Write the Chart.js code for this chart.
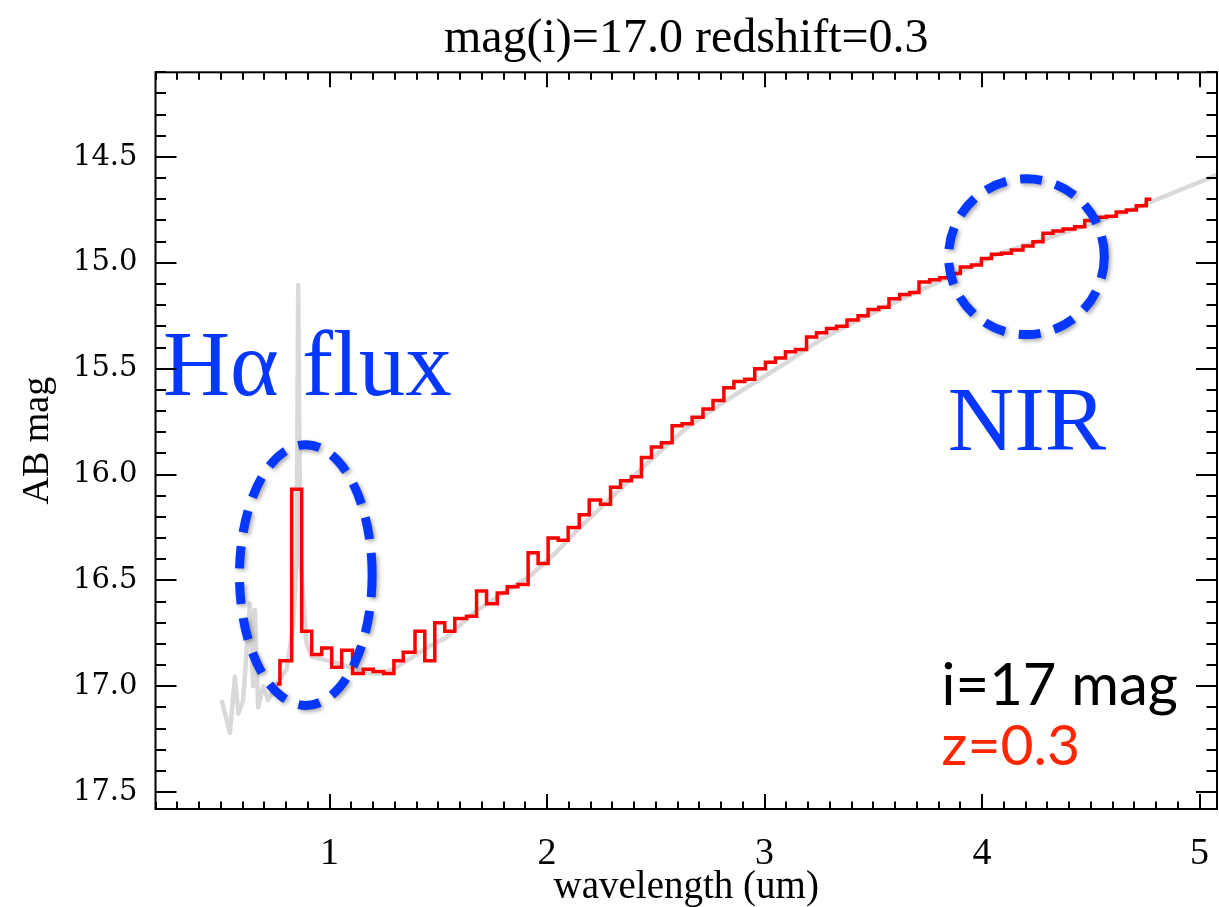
<!DOCTYPE html>
<html>
<head>
<meta charset="utf-8">
<script src="https://cdn.jsdelivr.net/npm/chart.js@4.4.1/dist/chart.umd.min.js"></script>
<style>
html, body { margin: 0; padding: 0; background: #fff; }
canvas { display: block; }
</style>
</head>
<body>
<canvas id="myChart" width="1219" height="907"></canvas>
<script>
// binned spectrum (red): left edge of each bin [um] and its AB mag, last entry closes the last bin
const binEdges = [0.758, 0.772, 0.826, 0.872, 0.918, 0.964, 1.010, 1.056, 1.106, 1.155,
	1.201, 1.249, 1.296, 1.339, 1.393, 1.438, 1.484, 1.530, 1.576, 1.630,
	1.676, 1.722, 1.771, 1.817, 1.866, 1.913, 1.959, 2.005, 2.051, 2.097,
	2.148, 2.194, 2.246, 2.292, 2.338, 2.388, 2.434, 2.480, 2.526, 2.575,
	2.621, 2.667, 2.717, 2.763, 2.813, 2.859, 2.909, 2.955, 3.004, 3.050,
	3.096, 3.142, 3.193, 3.239, 3.285, 3.331, 3.379, 3.430, 3.476, 3.525,
	3.572, 3.621, 3.667, 3.710, 3.759, 3.805, 3.854, 3.900, 3.951, 3.997,
	4.043, 4.089, 4.135, 4.188, 4.234, 4.280, 4.326, 4.372, 4.426, 4.472,
	4.518, 4.571, 4.617, 4.663, 4.709, 4.755, 4.778];
const binMags = [16.99, 16.88, 16.07, 16.74, 16.85, 16.82, 16.91, 16.83, 16.94, 16.92,
	16.93, 16.94, 16.88, 16.84, 16.74, 16.88, 16.70, 16.74, 16.68, 16.67,
	16.55, 16.61, 16.56, 16.53, 16.52, 16.37, 16.42, 16.30, 16.31, 16.25,
	16.19, 16.12, 16.14, 16.06, 16.03, 16.01, 15.92, 15.87, 15.85, 15.77,
	15.76, 15.73, 15.69, 15.65, 15.59, 15.56, 15.55, 15.50, 15.47, 15.45,
	15.42, 15.41, 15.35, 15.33, 15.31, 15.30, 15.27, 15.25, 15.22, 15.21,
	15.17, 15.15, 15.14, 15.09, 15.08, 15.07, 15.05, 15.02, 15.01, 14.98,
	14.96, 14.955, 14.94, 14.92, 14.90, 14.86, 14.85, 14.84, 14.83, 14.80,
	14.785, 14.78, 14.76, 14.75, 14.73, 14.70, 14.70];

// model spectrum (grey)
const modelWave = [0.504, 0.542, 0.565, 0.581, 0.603, 0.634, 0.649, 0.657, 0.672, 0.695,
	0.718, 0.757, 0.803, 0.833, 0.849, 0.856, 0.866, 0.895, 0.918, 1.033,
	1.109, 1.186, 1.247, 1.308, 1.385, 1.461, 1.538, 1.660, 1.814, 1.921,
	2.044, 2.151, 2.274, 2.396, 2.488, 2.641, 2.794, 2.947, 3.101, 3.254,
	3.392, 3.621, 3.851, 4.081, 4.342, 4.648, 4.877, 5.078];
const modelMag = [17.065, 17.22, 16.955, 17.13, 17.065, 16.61, 17.00, 16.64, 17.10, 17.00,
	17.065, 16.99, 16.92, 16.72, 16.40, 15.105, 16.40, 16.80, 16.86, 16.89,
	16.915, 16.94, 16.94, 16.91, 16.86, 16.81, 16.77, 16.655, 16.55, 16.48,
	16.365, 16.25, 16.13, 16.01, 15.92, 15.78, 15.67, 15.57, 15.47, 15.365,
	15.29, 15.175, 15.065, 14.955, 14.87, 14.765, 14.67, 14.585];

const xTickVals = [1, 2, 3, 4, 5];
const yTickVals = [14.5, 15.0, 15.5, 16.0, 16.5, 17.0, 17.5];

// annotations (data coordinates)
const circles = [
	{ cx: 0.891, cy: 16.475, rx: 0.305, ry: 0.616 },
	{ cx: 4.204, cy: 14.971, rx: 0.358, ry: 0.368 }
];
const notes = [
	{ text: 'H\u03b1 flux', x: 0.234, y: 15.624, color: '#0537ff', font: '93px "Liberation Serif", serif' },
	{ text: 'NIR', x: 3.842, y: 15.884, color: '#0537ff', font: '92px "Liberation Serif", serif' },
	{ text: 'i=17 mag', x: 3.814, y: 17.089, color: '#000000', font: '58px Lato, sans-serif' },
	{ text: 'z=0.3', x: 3.814, y: 17.372, color: '#ff2600', font: '57px Lato, sans-serif' }
];

const redPoints = binEdges.map((w, i) => ({ x: w, y: binMags[i] }));
const greyPoints = modelWave.map((w, i) => ({ x: w, y: modelMag[i] }));

// IDL style frame with inward ticks on all four sides
const frameTicks = {
	id: 'frameTicks',
	afterDraw(chart) {
		const { ctx, chartArea: a, scales: { x, y } } = chart;
		ctx.save();
		ctx.strokeStyle = '#000';
		ctx.lineWidth = 2;
		ctx.strokeRect(a.left, a.top, a.right - a.left, a.bottom - a.top);
		ctx.beginPath();
		for (let i = Math.ceil(x.min * 10 - 1e-6); i <= Math.floor(x.max * 10 + 1e-6); i++) {
			const px = Math.round(x.getPixelForValue(i / 10));
			const len = i % 10 === 0 ? 15 : 7.5;
			ctx.moveTo(px, a.bottom);
			ctx.lineTo(px, a.bottom - len);
			ctx.moveTo(px, a.top);
			ctx.lineTo(px, a.top + len);
		}
		for (let i = Math.ceil(y.min * 10 - 1e-6); i <= Math.floor(y.max * 10 + 1e-6); i++) {
			const py = Math.round(y.getPixelForValue(i / 10));
			const len = i % 5 === 0 ? 21 : 10.5;
			ctx.moveTo(a.left, py);
			ctx.lineTo(a.left + len, py);
			ctx.moveTo(a.right, py);
			ctx.lineTo(a.right - len, py);
		}
		ctx.stroke();
		ctx.restore();
	}
};

const marks = {
	id: 'marks',
	afterDatasetsDraw(chart) {
		const { ctx, scales: { x, y } } = chart;
		ctx.save();
		circles.forEach((c) => {
			const cx = x.getPixelForValue(c.cx);
			const cy = y.getPixelForValue(c.cy);
			const rx = Math.abs(x.getPixelForValue(c.cx + c.rx) - cx);
			const ry = Math.abs(y.getPixelForValue(c.cy + c.ry) - cy);
			ctx.save();
			ctx.shadowColor = 'rgba(0,0,0,0.35)';
			ctx.shadowBlur = 4;
			ctx.shadowOffsetX = 2;
			ctx.shadowOffsetY = 2;
			ctx.strokeStyle = '#0537ff';
			ctx.lineWidth = 9;
			ctx.setLineDash([22, 14]);
			ctx.beginPath();
			ctx.ellipse(cx, cy, rx, ry, 0, 0, Math.PI * 2);
			ctx.stroke();
			ctx.restore();
		});
		ctx.textAlign = 'left';
		ctx.textBaseline = 'alphabetic';
		notes.forEach((n) => {
			ctx.font = n.font;
			ctx.fillStyle = n.color;
			ctx.fillText(n.text, x.getPixelForValue(n.x), y.getPixelForValue(n.y));
		});
		ctx.restore();
	}
};

const serif = '"Liberation Serif", "Times New Roman", serif';

new Chart(document.getElementById('myChart'), {
	type: 'line',
	data: {
		datasets: [{
			label: 'binned',
			data: redPoints,
			stepped: true,
			borderColor: '#ff0000',
			borderWidth: 3.5,
			pointRadius: 0,
			fill: false,
			order: 0
		}, {
			label: 'model',
			data: greyPoints,
			borderColor: '#d9d9d9',
			borderWidth: 4.5,
			borderJoinStyle: 'round',
			pointRadius: 0,
			tension: 0,
			fill: false,
			order: 1
		}]
	},
	options: {
		responsive: false,
		animation: false,
		devicePixelRatio: 1,
		layout: { padding: { left: 0, right: 2, top: 0, bottom: 0 } },
		plugins: {
			legend: { display: false },
			tooltip: { enabled: false },
			title: {
				display: true,
				text: 'mag(i)=17.0 redshift=0.3',
				color: '#000',
				fullSize: false,
				font: { family: serif, size: 48, weight: 'normal', lineHeight: 1.2 },
				padding: { top: 11, bottom: 3.7 }
			}
		},
		scales: {
			x: {
				type: 'linear',
				min: 0.2,
				max: 5.08,
				grid: { display: false },
				border: { display: false },
				afterFit: (s) => { s.height = 98; s.paddingLeft = 0; s.paddingRight = 0; },
				afterBuildTicks: (s) => { s.ticks = xTickVals.map((v) => ({ value: v })); },
				ticks: {
					autoSkip: false,
					maxRotation: 0,
					padding: 18,
					color: '#000',
					font: { family: serif, size: 38, lineHeight: 1 },
					callback: (v) => String(v)
				},
				title: {
					display: true,
					text: 'wavelength (um)',
					color: '#000',
					font: { family: serif, size: 39, lineHeight: 1 },
					padding: { top: 0, bottom: 0 }
				}
			},
			y: {
				type: 'linear',
				reverse: true,
				min: 14.1,
				max: 17.58,
				grid: { display: false },
				border: { display: false },
				afterFit: (s) => { s.width = 155.5; s.paddingTop = 0; s.paddingBottom = 0; },
				afterBuildTicks: (s) => { s.ticks = yTickVals.map((v) => ({ value: v })); },
				ticks: {
					autoSkip: false,
					padding: 10,
					color: '#000',
					font: { family: '"DejaVu Serif", serif', size: 29, lineHeight: 1 },
					callback: (v) => Number(v).toFixed(1)
				},
				title: {
					display: true,
					text: 'AB mag',
					color: '#000',
					font: { family: serif, size: 38, lineHeight: 1 },
					padding: { top: 19, bottom: 0 }
				}
			}
		}
	},
	plugins: [frameTicks, marks]
});
</script>
</body>
</html>
